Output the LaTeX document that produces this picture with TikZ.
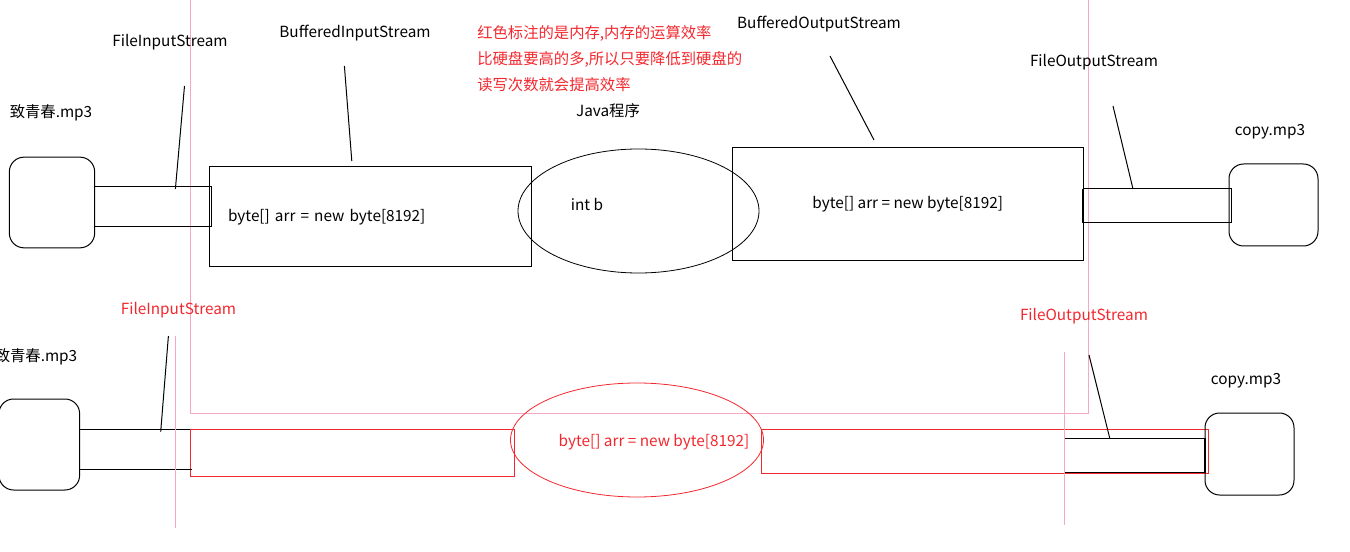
\documentclass[tikz,border=0pt]{standalone}
\usepackage{fontspec}
\setmainfont{Noto Sans CJK SC}
\usepackage{tikz}
\usetikzlibrary{positioning,shapes.geometric}
\definecolor{notered}{HTML}{F2282E}
\definecolor{memorypink}{HTML}{F7A8C2}

\begin{document}
\begin{tikzpicture}[
  x=0.75pt, y=-0.75pt,
  tag/.style={
    inner sep=0pt,
    font=\fontsize{11.5}{13.5}\selectfont
  },
  redtag/.style={tag, text=notered},
  disk/.style={
    rectangle,
    draw,
    rounded corners=11pt,
    inner sep=0pt,
    outer sep=0pt,
    line width=0.75pt
  },
  pipe/.style={
    rectangle,
    draw,
    inner sep=0pt,
    outer sep=0pt,
    line width=0.75pt
  },
  buffer/.style={
    rectangle,
    draw,
    inner sep=0pt,
    outer sep=0pt,
    line width=0.75pt,
    font=\fontsize{11.5}{13.5}\selectfont
  },
  program/.style={
    ellipse,
    draw,
    inner sep=0pt,
    outer sep=0pt,
    line width=0.6pt
  },
  leader/.style={line width=0.75pt},
  guide/.style={draw=memorypink, line width=0.75pt}
]

\useasboundingbox (0,0) rectangle (1350,552);

% memory area
\draw[guide] (190,0) rectangle (1088,413);

% upper row: buffered streams
\node[disk, minimum width=64pt, minimum height=68pt] (srcA) at (52,202.5) {};
\node[pipe, minimum width=87.6pt, minimum height=30pt] (pipeA) at (153,207) {};
\node[buffer, minimum width=241.7pt, minimum height=75pt,
      text width=213.7pt, inner xsep=14pt, align=left] (bufIn) at (370.5,217) {\raisebox{3pt}{byte[] arr = new byte[8192]}};
\node[program, minimum width=180.75pt, minimum height=93pt] (progA) at (638.5,211) {};
\node[tag] (intB) at (587,204) {int b};
\node[buffer, minimum width=263pt, minimum height=84.75pt] (bufOut) at (907.7,204.5) {byte[] arr = new byte[8192]};
\node[pipe, minimum width=111pt, minimum height=25.5pt] (pipeB) at (1157,206) {};
\draw[line width=1.5pt] (pipeB.north west) -- (pipeB.south west);
\node[disk, minimum width=66.75pt, minimum height=61.5pt] (dstA) at (1273.5,205) {};

\node[tag] (srcNameA) at (51,113) {致青春.mp3};
\node[tag] (dstNameA) at (1270,132) {copy.mp3};
\node[tag] (javaProg) at (608,111) {Java程序};
\node[tag] (fisA) at (170,42) {FileInputStream};
\node[tag] (bisA) at (355,33) {BufferedInputStream};
\node[tag] (bosA) at (819,24) {BufferedOutputStream};
\node[tag] (fosA) at (1094,62) {FileOutputStream};
\node[redtag, anchor=west, align=left, font=\fontsize{11.5}{19.5}\selectfont] (note) at (477,59)
  {红色标注的是内存,内存的运算效率\\比硬盘要高的多,所以只要降低到硬盘的\\读写次数就会提高效率};

\coordinate (fisTipA) at (184.5,86);
\coordinate (fisFootA) at (175.4,189);
\coordinate (bisTipA) at (344.4,66);
\coordinate (bisFootA) at (351.8,161);
\coordinate (bosTipA) at (830,56);
\coordinate (bosFootA) at (874,140);
\coordinate (fosTipA) at (1113,106);
\coordinate (fosFootA) at (1133,189);
\draw[leader] (fisTipA) -- (fisFootA);
\draw[leader] (bisTipA) -- (bisFootA);
\draw[leader] (bosTipA) -- (bosFootA);
\draw[leader] (fosTipA) -- (fosFootA);

% lower row: plain file streams
\node[disk, minimum width=60.5pt, minimum height=68.25pt] (srcB) at (39.3,444.5) {};
\node[pipe, draw=notered, minimum width=243pt, minimum height=35.25pt] (memL) at (352,452.5) {};
\node[program, draw=notered, minimum width=189.75pt, minimum height=85.5pt] (progB) at (637,440) {};
\node[redtag] (arrB) at (654,442) {byte[] arr = new byte[8192]};
\node[pipe, draw=notered, minimum width=335.6pt, minimum height=33pt] (memR) at (985.25,451) {};
\node[disk, minimum width=66.75pt, minimum height=61.5pt] (dstB) at (1249.5,454) {};

\coordinate (pipeEndL) at (192,469);
\coordinate (pipeStartR) at (1064,438);
\coordinate (pipeLowR) at (1064,472.7);
\draw[leader] (srcB.east |- memL.north) -- (memL.north west);
\draw[leader] (srcB.east |- pipeEndL) -- (pipeEndL);
\draw[leader] (pipeStartR) -- (pipeStartR -| dstB.west);
\draw[leader] (pipeLowR) -- (pipeLowR -| dstB.west);
\draw[line width=1.5pt] (pipeStartR -| dstB.west) -- (pipeLowR -| dstB.west);

\node[tag] (srcNameB) at (36,356.7) {致青春.mp3};
\node[tag] (dstNameB) at (1246,380.7) {copy.mp3};
\node[redtag] (fisB) at (178.5,310) {FileInputStream};
\node[redtag] (fosB) at (1084,315.7) {FileOutputStream};

\coordinate (fisTipB) at (168.4,336);
\coordinate (fisFootB) at (160.7,431.7);
\coordinate (fosTipB) at (1089,355);
\coordinate (fosFootB) at (1109.7,438);
\draw[leader] (fisTipB) -- (fisFootB);
\draw[leader] (fosTipB) -- (fosFootB);

% guide lines
\coordinate (guideTopL) at (175.5,336);
\coordinate (guideLowL) at (175.5,528);
\coordinate (guideTopR) at (1064.6,352);
\coordinate (guideLowR) at (1064.6,525);
\draw[guide] (guideTopL) -- (guideLowL);
\draw[guide] (guideTopR) -- (guideLowR);

\end{tikzpicture}
\end{document}
